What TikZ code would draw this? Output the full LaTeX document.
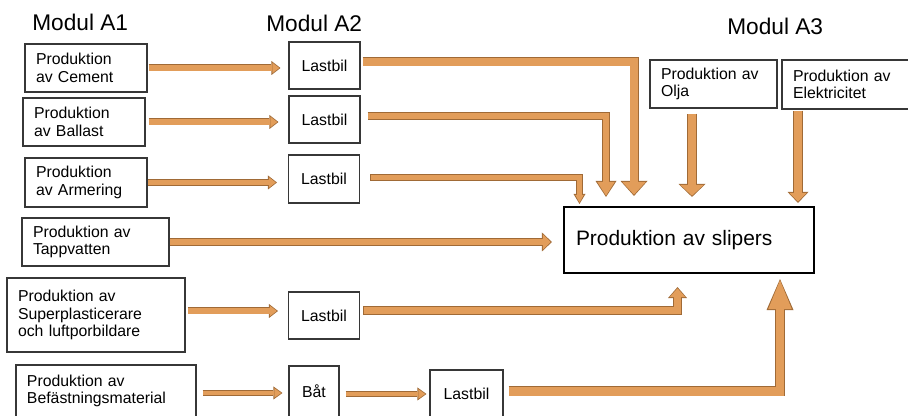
\documentclass[tikz,border=0pt]{standalone}
\usepackage{fontspec}
\setmainfont{Liberation Sans}
\usetikzlibrary{arrows.meta}

\definecolor{arrfill}{RGB}{226,157,90}
\definecolor{arredge}{RGB}{160,106,54}
\definecolor{boxline}{RGB}{55,55,55}

\tikzset{
  % block arrow: outer shaft width, head length, head width (cm)
  flow/.code n args={3}{%
    \pgfmathsetmacro\flowsi{#1-0.035}%
    \pgfmathsetmacro\flowli{#2-0.045}%
    \pgfmathsetmacro\flowwi{#3-0.07}%
    \tikzset{draw=arrfill, line width=\flowsi cm,
      shorten >=0.025cm, shorten <=0.018cm,
      -{Triangle[length=\flowli cm, width=\flowwi cm, line width=0pt]},
      preaction={draw=arredge, line width=#1cm, shorten >=0pt, shorten <=0pt,
        -{Triangle[length=#2cm, width=#3cm, line width=0pt]}}}},
  modul/.style={anchor=base west, inner sep=0pt, font=\fontsize{12.9}{15}\selectfont},
  src/.style={draw=boxline, line width=0.6pt, align=left, inner xsep=0.22cm, inner ysep=2pt,
    minimum height=0.96cm, font=\fontsize{9}{10}\selectfont},
  truck/.style={draw=boxline, line width=0.6pt, minimum width=1.42cm, minimum height=0.94cm,
    inner sep=2pt, font=\fontsize{9}{10}\selectfont},
}

\begin{document}
\begin{tikzpicture}
\useasboundingbox (0,0) rectangle (18.16,8.32);

\node[modul] (ma1) at (0.64,7.70) {Modul A1};
\node[modul] (ma2) at (5.32,7.68) {Modul A2};
\node[modul] (ma3) at (14.54,7.62) {Modul A3};

% Modul A1
\node[src, text width=2.0cm] (cem) at (1.72,6.96) {Produktion\\av Cement};
\node[src, text width=2.0cm] (bal) at (1.68,5.88) {Produktion\\av Ballast};
\node[src, text width=2.0cm, minimum height=0.98cm] (arm) at (1.72,4.67) {Produktion\\av Armering};
\node[src, text width=2.5cm] (tap) at (1.91,3.48) {Produktion av\\Tappvatten};
\node[src, text width=3.12cm, minimum height=1.48cm] (sup) at (1.92,2.02) {Produktion av\\Superplasticerare\\och luftporbildare};
\node[src, text width=3.16cm, minimum height=1.04cm] (bef) at (2.12,0.50) {Produktion av\\Befästningsmaterial};

% Modul A2
\node[truck] (l1) at (6.49,7.01) {Lastbil};
\node[truck] (l2) at (6.49,5.93) {Lastbil};
\node[truck, minimum height=0.96cm] (l3) at (6.48,4.74) {Lastbil};
\node[truck] (l4) at (6.48,2.01) {Lastbil};
\node[truck, minimum width=1.0cm, minimum height=1.02cm] (bat) at (6.28,0.49) {Båt};
\node[truck, minimum width=1.46cm] (l5) at (9.33,0.45) {Lastbil};

% Modul A3
\node[src, text width=2.1cm] (olj) at (14.27,6.64) {Produktion av\\Olja};
\node[src, text width=2.16cm, minimum height=0.98cm] (ele) at (16.94,6.63) {Produktion av\\Elektricitet};
\node[draw=black, line width=1.2pt, align=left, inner xsep=0.24cm, text width=4.52cm,
  minimum height=1.32cm, font=\fontsize{11.9}{14}\selectfont] (sli) at (13.78,3.52) {Produktion av slipers};

% transport legs
\draw[flow={0.14}{0.18}{0.28}] ([xshift=0.02cm]cem.east) -- ([xshift=-0.16cm]cem.east -| l1.west);
\draw[flow={0.14}{0.18}{0.28}] ([xshift=0.06cm]bal.east) -- ([xshift=-0.2cm]bal.east -| l2.west);
\draw[flow={0.14}{0.18}{0.28}] (arm.east) -- ([xshift=-0.22cm]arm.east -| l3.west);
\draw[flow={0.14}{0.18}{0.28}] ([xshift=0.04cm,yshift=0.08cm]sup.east) -- ([xshift=-0.2cm,yshift=0.08cm]sup.east -| l4.west);
\draw[flow={0.13}{0.18}{0.26}] ([xshift=0.12cm,yshift=-0.04cm]bef.east) -- ([xshift=-0.12cm,yshift=-0.04cm]bef.east -| bat.west);
\draw[flow={0.13}{0.18}{0.26}] ([xshift=0.12cm,yshift=-0.05cm]bat.east) -- ([xshift=-0.06cm,yshift=-0.05cm]bat.east -| l5.west);

% into the sleeper plant
\draw[flow={0.18}{0.3}{0.54}] ([xshift=0.04cm,yshift=0.07cm]l1.east) -| ([xshift=-1.1cm,yshift=0.2cm]sli.north);
\draw[flow={0.16}{0.32}{0.42}] ([xshift=0.14cm,yshift=0.07cm]l2.east) -| ([xshift=-1.66cm,yshift=0.18cm]sli.north);
\draw[flow={0.14}{0.2}{0.24}] ([xshift=0.2cm,yshift=0.03cm]l3.east) -| ([xshift=-2.19cm,yshift=0.04cm]sli.north);
\draw[flow={0.16}{0.2}{0.38}] (tap.east) -- ([xshift=-0.22cm]tap.east -| sli.west);
\draw[flow={0.18}{0.22}{0.38}] ([xshift=0.06cm,yshift=0.1cm]l4.east) -| ([xshift=-0.23cm,yshift=-0.26cm]sli.south);
\draw[flow={0.2}{0.62}{0.54}] ([xshift=0.1cm,yshift=0.04cm]l5.east) -| ([xshift=1.82cm,yshift=-0.1cm]sli.south);
\draw[flow={0.2}{0.26}{0.54}] ([xshift=-0.43cm,yshift=-0.1cm]olj.south) -- ([xshift=-0.43cm,yshift=0.18cm]olj.south |- sli.north);
\draw[flow={0.2}{0.22}{0.42}] ([xshift=-0.98cm,yshift=-0.02cm]ele.south) -- ([xshift=-0.98cm,yshift=0.06cm]ele.south |- sli.north);
\end{tikzpicture}
\end{document}
